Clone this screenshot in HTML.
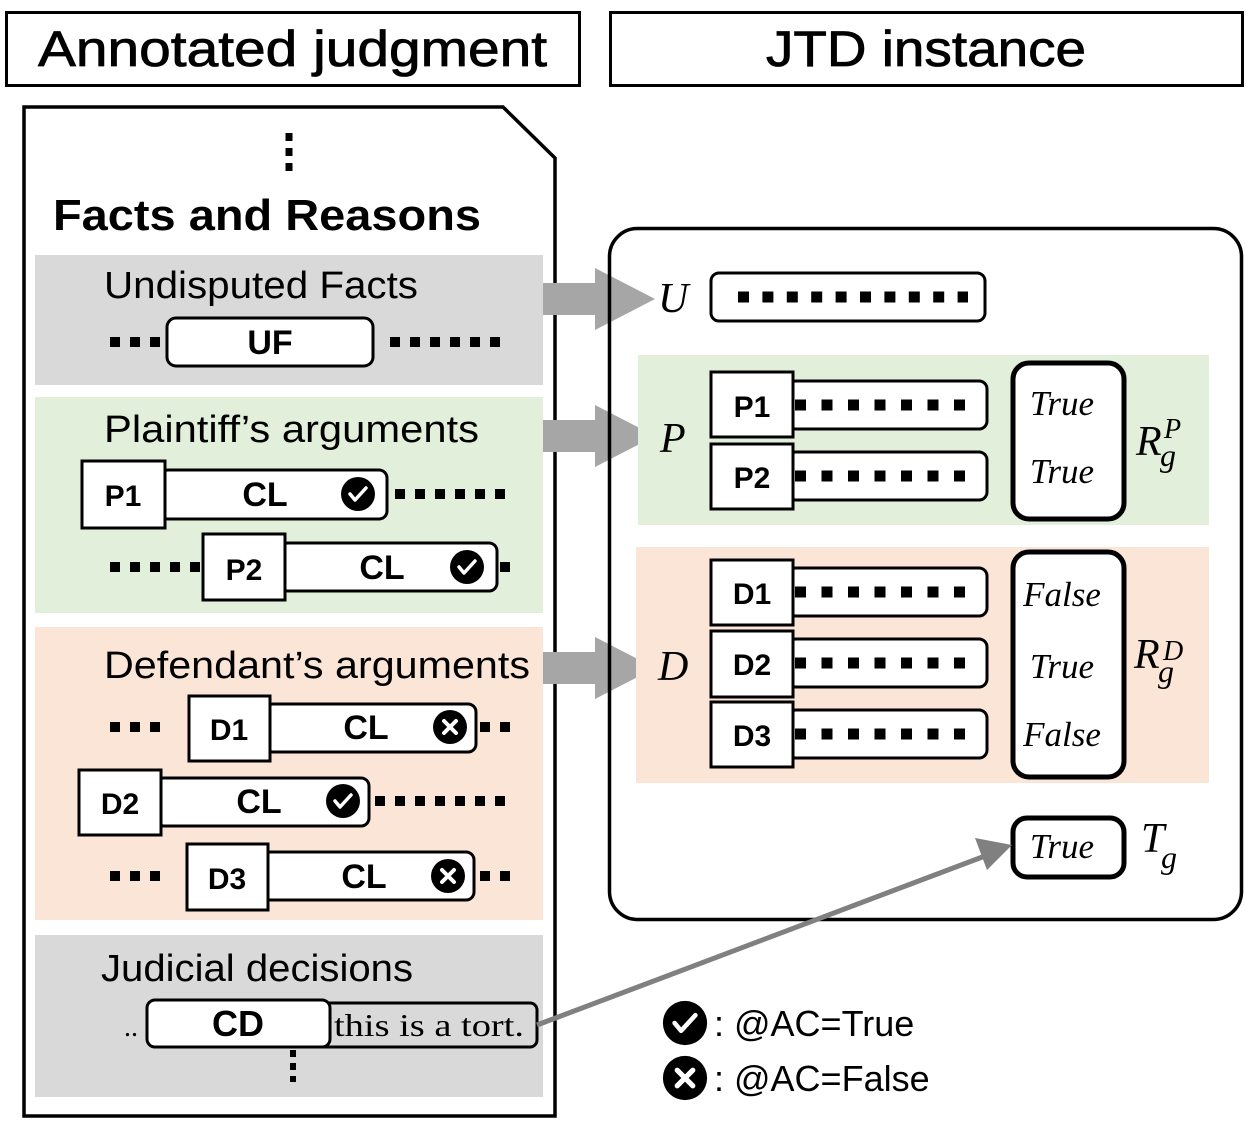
<!DOCTYPE html>
<html><head><meta charset="utf-8"><style>
html,body{margin:0;padding:0;background:#fff}
svg{display:block}
.s{font-family:"Liberation Sans",sans-serif}
.b{font-family:"Liberation Sans",sans-serif;font-weight:bold}
.m{font-family:"Liberation Serif",serif;font-style:italic}
.d{stroke:#000;stroke-width:10;stroke-dasharray:10 10}
.r{stroke:#000;stroke-width:11;stroke-dasharray:11 15.5}
.u{stroke:#000;stroke-width:11;stroke-dasharray:11 13.4}
</style></head><body>
<svg width="1246" height="1125" viewBox="0 0 1246 1125" xmlns="http://www.w3.org/2000/svg">
<defs>
<g id="chk"><circle r="17" fill="#000"/><path d="M-8 0 L-3 6 L8 -6" stroke="#fff" stroke-width="3.5" fill="none" stroke-linecap="round" stroke-linejoin="round"/></g>
<g id="crs"><circle r="17" fill="#000"/><path d="M-6 -6 L6 6 M6 -6 L-6 6" stroke="#fff" stroke-width="4" stroke-linecap="round"/></g>
</defs>
<!-- headers -->
<rect x="6.5" y="12.5" width="573" height="73" fill="#fff" stroke="#000" stroke-width="3"/>
<text x="38" y="66" class="s" font-size="50" textLength="509" lengthAdjust="spacingAndGlyphs" stroke="#000" stroke-width="0.8">Annotated judgment</text>
<rect x="610.5" y="12.5" width="632" height="73" fill="#fff" stroke="#000" stroke-width="3"/>
<text x="766" y="66" class="s" font-size="50" textLength="320" lengthAdjust="spacingAndGlyphs" stroke="#000" stroke-width="0.8">JTD instance</text>

<!-- left panel -->
<path d="M24 107 L503 107 L555 158 L555 1116 L24 1116 Z" fill="#fff" stroke="#000" stroke-width="3.5"/>
<line x1="289" y1="133" x2="289" y2="176" stroke="#000" stroke-dasharray="8 7" stroke-width="7"/>
<text x="53" y="230" class="b" font-size="44" textLength="428" lengthAdjust="spacingAndGlyphs">Facts and Reasons</text>

<rect x="35" y="255" width="508" height="130" fill="#d9d9d9"/>
<text x="104" y="298" class="s" font-size="38" textLength="314" lengthAdjust="spacingAndGlyphs">Undisputed Facts</text>
<line x1="110" y1="342" x2="165" y2="342" class="d"/>
<line x1="390" y1="342" x2="510" y2="342" class="d"/>
<rect x="167" y="318" width="206" height="48" rx="9" fill="#fff" stroke="#000" stroke-width="3"/>
<text x="270" y="354" class="b" font-size="34" text-anchor="middle">UF</text>

<rect x="35" y="397" width="508" height="216" fill="#e2efda"/>
<text x="104" y="442" class="s" font-size="38" textLength="375" lengthAdjust="spacingAndGlyphs">Plaintiff’s arguments</text>
<rect x="160" y="470" width="227" height="49" rx="8" fill="#fff" stroke="#000" stroke-width="3"/>
<rect x="82" y="461" width="83" height="67" fill="#fff" stroke="#000" stroke-width="3"/>
<text x="123" y="506" class="b" font-size="30" text-anchor="middle">P1</text>
<text x="265" y="506" class="b" font-size="34" text-anchor="middle">CL</text>
<use href="#chk" x="358" y="494"/>
<line x1="395" y1="494" x2="515" y2="494" class="d"/>
<line x1="110" y1="567" x2="200" y2="567" class="d"/>
<rect x="280" y="543" width="217" height="48" rx="8" fill="#fff" stroke="#000" stroke-width="3"/>
<rect x="203" y="534" width="82" height="66" fill="#fff" stroke="#000" stroke-width="3"/>
<text x="244" y="580" class="b" font-size="30" text-anchor="middle">P2</text>
<text x="382" y="579" class="b" font-size="34" text-anchor="middle">CL</text>
<use href="#chk" x="467" y="567"/>
<line x1="500" y1="567" x2="510" y2="567" class="d"/>

<rect x="35" y="627" width="508" height="293" fill="#fbe5d6"/>
<text x="104" y="678" class="s" font-size="38" textLength="426" lengthAdjust="spacingAndGlyphs">Defendant’s arguments</text>
<line x1="110" y1="727" x2="170" y2="727" class="d"/>
<rect x="265" y="704" width="211" height="48" rx="8" fill="#fff" stroke="#000" stroke-width="3"/>
<rect x="189" y="696" width="81" height="65" fill="#fff" stroke="#000" stroke-width="3"/>
<text x="229" y="740" class="b" font-size="30" text-anchor="middle">D1</text>
<text x="366" y="739" class="b" font-size="34" text-anchor="middle">CL</text>
<use href="#crs" x="450" y="727"/>
<line x1="480" y1="727" x2="510" y2="727" class="d"/>
<rect x="156" y="778" width="213" height="48" rx="8" fill="#fff" stroke="#000" stroke-width="3"/>
<rect x="79" y="770" width="82" height="65" fill="#fff" stroke="#000" stroke-width="3"/>
<text x="120" y="814" class="b" font-size="30" text-anchor="middle">D2</text>
<text x="259" y="813" class="b" font-size="34" text-anchor="middle">CL</text>
<use href="#chk" x="343" y="801"/>
<line x1="375" y1="801" x2="515" y2="801" class="d"/>
<line x1="110" y1="876" x2="170" y2="876" class="d"/>
<rect x="263" y="852" width="211" height="48" rx="8" fill="#fff" stroke="#000" stroke-width="3"/>
<rect x="187" y="844" width="81" height="66" fill="#fff" stroke="#000" stroke-width="3"/>
<text x="227" y="889" class="b" font-size="30" text-anchor="middle">D3</text>
<text x="364" y="888" class="b" font-size="34" text-anchor="middle">CL</text>
<use href="#crs" x="448" y="876"/>
<line x1="480" y1="876" x2="510" y2="876" class="d"/>

<rect x="35" y="935" width="508" height="162" fill="#d9d9d9"/>
<text x="101" y="981" class="s" font-size="38" textLength="312" lengthAdjust="spacingAndGlyphs">Judicial decisions</text>
<text x="124" y="1036" font-family="Liberation Serif,serif" font-size="28">..</text>
<rect x="310" y="1003" width="227" height="44" rx="7" fill="none" stroke="#000" stroke-width="3"/>
<rect x="147" y="1000" width="183" height="47" rx="8" fill="#fff" stroke="#000" stroke-width="3"/>
<text x="238" y="1036" class="b" font-size="36" text-anchor="middle">CD</text>
<text x="334" y="1036" font-family="Liberation Serif,serif" font-size="32" textLength="190" lengthAdjust="spacingAndGlyphs">this is a tort.</text>
<line x1="293" y1="1050" x2="293" y2="1082" stroke="#000" stroke-width="6" stroke-dasharray="7 6"/>

<!-- big arrows -->
<g fill="#a6a6a6">
<path d="M543 283 L595 283 L595 268 L655 299 L595 330 L595 315 L543 315 Z"/>
<path d="M543 420 L595 420 L595 405 L655 436 L595 467 L595 452 L543 452 Z"/>
<path d="M543 652 L595 652 L595 637 L655 668 L595 699 L595 684 L543 684 Z"/>
</g>

<!-- right panel -->
<rect x="609.5" y="228.5" width="632" height="691" rx="28" fill="none" stroke="#000" stroke-width="3.5"/>
<text x="658" y="312" class="m" font-size="42">U</text>
<rect x="711" y="273" width="274" height="48" rx="8" fill="#fff" stroke="#000" stroke-width="3"/>
<line x1="738" y1="297" x2="968" y2="297" class="u"/>

<rect x="638" y="355" width="571" height="170" fill="#e2efda"/>
<text x="660" y="452" class="m" font-size="42">P</text>
<rect x="788" y="381" width="199" height="48" rx="8" fill="#fff" stroke="#000" stroke-width="3"/>
<line x1="795" y1="405" x2="965" y2="405" class="r"/>
<rect x="711" y="372" width="82" height="65" fill="#fff" stroke="#000" stroke-width="3"/>
<text x="752" y="417" class="b" font-size="30" text-anchor="middle">P1</text>
<rect x="788" y="452" width="199" height="48" rx="8" fill="#fff" stroke="#000" stroke-width="3"/>
<line x1="795" y1="476" x2="965" y2="476" class="r"/>
<rect x="711" y="444" width="82" height="65" fill="#fff" stroke="#000" stroke-width="3"/>
<text x="752" y="488" class="b" font-size="30" text-anchor="middle">P2</text>
<rect x="1013" y="363" width="111" height="156" rx="16" fill="#fff" stroke="#000" stroke-width="5"/>
<text x="1062" y="415" class="m" font-size="35" text-anchor="middle">True</text>
<text x="1062" y="483" class="m" font-size="35" text-anchor="middle">True</text>
<text x="1136" y="455" class="m" font-size="42">R</text>
<text x="1164" y="438" class="m" font-size="28">P</text>
<text x="1160" y="466" class="m" font-size="32">g</text>

<rect x="636" y="547" width="573" height="236" fill="#fbe5d6"/>
<text x="658" y="680" class="m" font-size="42">D</text>
<rect x="788" y="568" width="199" height="48" rx="8" fill="#fff" stroke="#000" stroke-width="3"/>
<line x1="795" y1="592" x2="965" y2="592" class="r"/>
<rect x="711" y="560" width="82" height="65" fill="#fff" stroke="#000" stroke-width="3"/>
<text x="752" y="604" class="b" font-size="30" text-anchor="middle">D1</text>
<rect x="788" y="639" width="199" height="48" rx="8" fill="#fff" stroke="#000" stroke-width="3"/>
<line x1="795" y1="663" x2="965" y2="663" class="r"/>
<rect x="711" y="631" width="82" height="66" fill="#fff" stroke="#000" stroke-width="3"/>
<text x="752" y="675" class="b" font-size="30" text-anchor="middle">D2</text>
<rect x="788" y="710" width="199" height="48" rx="8" fill="#fff" stroke="#000" stroke-width="3"/>
<line x1="795" y1="734" x2="965" y2="734" class="r"/>
<rect x="711" y="702" width="82" height="65" fill="#fff" stroke="#000" stroke-width="3"/>
<text x="752" y="746" class="b" font-size="30" text-anchor="middle">D3</text>
<rect x="1013" y="552" width="111" height="225" rx="16" fill="#fff" stroke="#000" stroke-width="5"/>
<text x="1062" y="606" class="m" font-size="35" text-anchor="middle">False</text>
<text x="1062" y="678" class="m" font-size="35" text-anchor="middle">True</text>
<text x="1062" y="746" class="m" font-size="35" text-anchor="middle">False</text>
<text x="1134" y="668" class="m" font-size="42">R</text>
<text x="1163" y="660" class="m" font-size="28">D</text>
<text x="1158" y="682" class="m" font-size="32">g</text>

<rect x="1013" y="818" width="111" height="59" rx="14" fill="#fff" stroke="#000" stroke-width="5"/>
<text x="1062" y="858" class="m" font-size="35" text-anchor="middle">True</text>
<text x="1141" y="852" class="m" font-size="42">T</text>
<text x="1161" y="868" class="m" font-size="32">g</text>

<!-- thin arrow -->
<line x1="537" y1="1025" x2="985" y2="856" stroke="#808080" stroke-width="5"/>
<path d="M1012 845 L975 838 L987 870 Z" fill="#808080"/>

<!-- legend -->
<g transform="translate(685,1023) scale(1.3)"><use href="#chk"/></g>
<text x="714" y="1036" class="s" font-size="36">: @AC=True</text>
<g transform="translate(685,1078) scale(1.3)"><use href="#crs"/></g>
<text x="714" y="1091" class="s" font-size="36">: @AC=False</text>
</svg>
</body></html>
